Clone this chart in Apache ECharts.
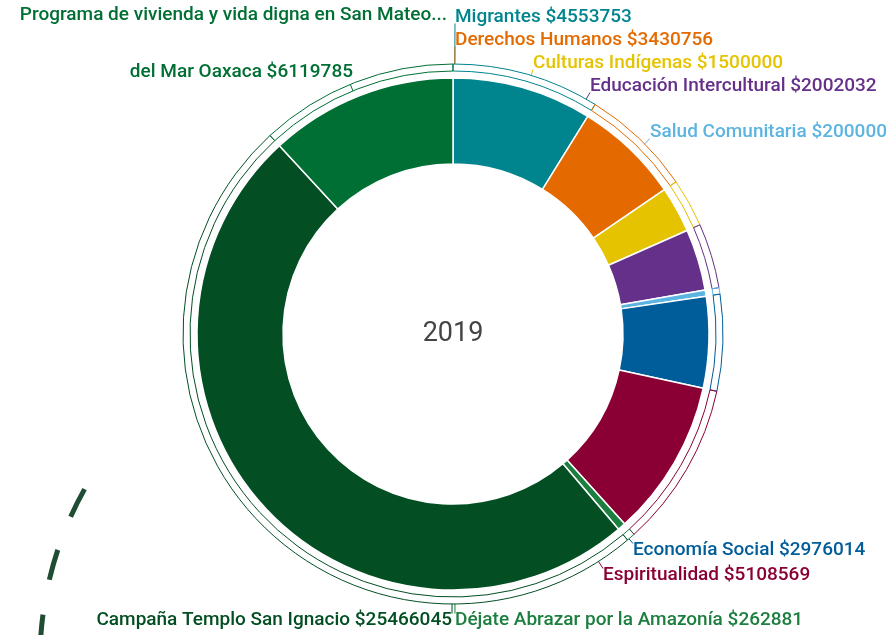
<!DOCTYPE html>
<html>
<head>
<meta charset="utf-8">
<script src="https://cdn.jsdelivr.net/npm/echarts@6/dist/echarts.min.js"></script>
<style>
  html, body { margin: 0; padding: 0; background: #fff; }
  #main { width: 893px; height: 635px; }
</style>
</head>
<body>
<div id="main"></div>
<script>
// datos 2019
var year = '2019';
var categories = [
  'Migrantes',
  'Derechos Humanos',
  'Culturas Indígenas',
  'Educación Intercultural',
  'Salud Comunitaria',
  'Economía Social',
  'Espiritualidad',
  'Déjate Abrazar por la Amazonía',
  'Campaña Templo San Ignacio',
  'Programa de vivienda y vida digna en San Mateo del Mar Oaxaca'
];
var amounts = [4553753, 3430756, 1500000, 2002032, 200000, 2976014, 5108569, 262881, 25466045, 6119785];
var colors = ['#00858f', '#e46a00', '#e5c300', '#653089', '#5cb4e1', '#005d99', '#8b0034', '#1c7f3f', '#034f23', '#006f34'];

var cx = 453, cy = 334;
var bracketR = 270;
var p2Pad = 94; // corrimiento de la segunda linea de "Programa..."

// donde van las etiquetas (x, y, alineacion)
var labelSpots = [
  [455, 17, 'left'],
  [455, 40, 'left'],
  [533, 63, 'left'],
  [590, 86, 'left'],
  [650, 132, 'left'],
  [633, 550, 'left'],
  [603, 575, 'left'],
  [455, 620, 'left'],
  [452, 620, 'right'],
  [447, 4, 'right']
];

var chart = echarts.init(document.getElementById('main'));

var ringData = categories.map(function (name, i) {
  return { name: name, value: amounts[i], itemStyle: { color: colors[i] } };
});

var bracketData = categories.map(function (name, i) {
  return {
    name: name,
    value: amounts[i],
    itemStyle: { color: 'rgba(255,255,255,0)', borderColor: colors[i] },
    label: { color: colors[i] },
    labelLine: { lineStyle: { color: colors[i] } }
  };
});

// linea corta desde el anillo exterior hasta la esquina de la etiqueta
function guide(corner) {
  var dx = corner[0] - cx, dy = corner[1] - cy;
  var d = Math.sqrt(dx * dx + dy * dy);
  var onRing = [cx + dx / d * bracketR, cy + dy / d * bracketR];
  return [onRing, corner, corner];
}

var option = {
  animation: false,
  backgroundColor: '#fff',
  graphic: [{
    type: 'text',
    x: cx,
    y: cy,
    silent: true,
    style: { text: year, align: 'center', verticalAlign: 'middle', font: '27px Roboto', fill: '#444' }
  }, {
    // linea punteada decorativa
    type: 'arc',
    silent: true,
    shape: { cx: 390, cy: 660, r: 350, startAngle: Math.PI, endAngle: Math.PI * 1.165, clockwise: true },
    style: { fill: null, stroke: '#1f4d33', lineWidth: 5, lineDash: [31, 35.5], lineDashOffset: 52 }
  }],
  series: [
    {
      type: 'pie',
      center: [cx, cy],
      radius: [170, 256],
      startAngle: 90,
      silent: true,
      itemStyle: { borderColor: '#fff', borderWidth: 1.5 },
      label: { show: false },
      labelLine: { show: false },
      data: ringData
    },
    {
      type: 'pie',
      center: [cx, cy],
      radius: [263, bracketR],
      startAngle: 90,
      silent: true,
      itemStyle: { borderWidth: 1 },
      label: {
        show: true,
        position: 'outside',
        overflow: 'none',
        fontFamily: 'Roboto',
        fontSize: 19,
        fontWeight: 500,
        formatter: function (p) {
          var val = '$' + p.value;
          if (p.name.indexOf('San Mateo ') > -1) {
            var parts = p.name.split('San Mateo ');
            return '{p1|' + parts[0] + 'San Mateo...}\n{p2|' + parts[1] + ' ' + val + '}';
          }
          return p.name + ' ' + val;
        },
        rich: {
          p1: { fontFamily: 'Roboto', fontSize: 19, fontWeight: 500, color: '#006f34', lineHeight: 22, align: 'right' },
          p2: { fontFamily: 'Roboto', fontSize: 19, fontWeight: 500, color: '#006f34', lineHeight: 22, align: 'right', padding: [71, p2Pad, 0, 0] }
        }
      },
      labelLine: { show: true, length: 6, length2: 4, lineStyle: { width: 1 } },
      labelLayout: function (params) {
        var i = params.dataIndex;
        var s = labelSpots[i];
        var w = params.labelRect.width, h = params.labelRect.height;
        var top = i === 9 ? s[1] : s[1] - h / 2;
        var left = s[2] === 'left' ? s[0] : s[0] - w;
        var right = left + w;
        var above = top + h / 2 < cy;
        var corner = [s[2] === 'left' ? left : right - (i === 9 ? p2Pad : 0), above ? top + h - 3 : top + 3];
        return {
          x: s[0],
          y: s[1],
          align: s[2],
          verticalAlign: i === 9 ? 'top' : 'middle',
          hideOverlap: false,
          labelLinePoints: guide(corner)
        };
      },
      data: bracketData
    }
  ]
};

chart.setOption(option);
</script>
</body>
</html>
